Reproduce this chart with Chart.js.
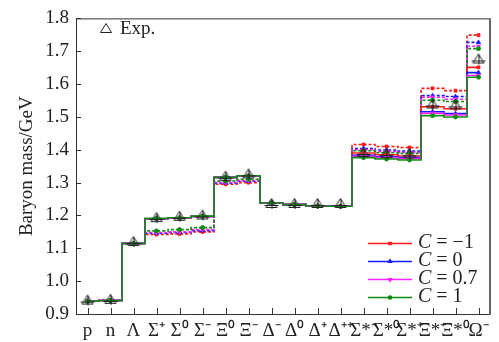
<!DOCTYPE html>
<html>
<head>
<meta charset="utf-8">
<script src="https://cdn.jsdelivr.net/npm/chart.js@4"></script>
<style>
  html, body { margin:0; padding:0; background:#fff; }
  #wrap { width:499px; height:342px; }
</style>
</head>
<body>
<div id="wrap"><canvas id="chart" width="499" height="342"></canvas></div>
<script>
// ── data ────────────────────────────────────────────────────────────────────
const baryons = ['p','n','Λ','Σ⁺','Σ⁰','Σ⁻','Ξ⁰','Ξ⁻','Δ⁻','Δ⁰','Δ⁺','Δ⁺⁺',
                 'Σ*⁻','Σ*⁰','Σ*⁺','Ξ*⁻','Ξ*⁰','Ω⁻'];
const yTicks  = [0.9, 1.0, 1.1, 1.2, 1.3, 1.4, 1.5, 1.6, 1.7, 1.8];

const expMass = [0.938, 0.940, 1.116, 1.189, 1.193, 1.197, 1.315, 1.322,
                 1.232, 1.232, 1.232, 1.232, 1.387, 1.384, 1.383, 1.535, 1.532, 1.672];

// solid lines
const solidCm1 = [0.939, 0.941, 1.115, 1.190, 1.192, 1.197, 1.316, 1.321,
                  1.238, 1.233, 1.229, 1.228, 1.390, 1.385, 1.381, 1.531, 1.525, 1.651];
const solidC0  = [0.939, 0.941, 1.115, 1.190, 1.192, 1.197, 1.316, 1.321,
                  1.238, 1.233, 1.229, 1.228, 1.383, 1.379, 1.376, 1.516, 1.510, 1.635];
const solidC07 = [0.939, 0.941, 1.115, 1.190, 1.192, 1.197, 1.316, 1.321,
                  1.238, 1.233, 1.229, 1.228, 1.380, 1.376, 1.373, 1.511, 1.506, 1.626];
const solidC1  = [0.939, 0.941, 1.115, 1.191, 1.193, 1.198, 1.316, 1.321,
                  1.238, 1.233, 1.229, 1.228, 1.376, 1.372, 1.369, 1.504, 1.500, 1.621];

// dashed lines
const dashCm1  = [0.939, 0.941, 1.114, 1.142, 1.144, 1.150, 1.295, 1.300,
                  1.238, 1.233, 1.229, 1.228, 1.416, 1.410, 1.407, 1.587, 1.580, 1.749];
const dashC0   = [0.939, 0.941, 1.114, 1.146, 1.148, 1.154, 1.299, 1.304,
                  1.238, 1.233, 1.229, 1.228, 1.404, 1.399, 1.396, 1.565, 1.562, 1.727];
const dashC07  = [0.939, 0.941, 1.114, 1.148, 1.150, 1.157, 1.301, 1.306,
                  1.238, 1.233, 1.229, 1.228, 1.400, 1.395, 1.392, 1.560, 1.554, 1.715];
const dashC1   = [0.939, 0.941, 1.114, 1.153, 1.157, 1.163, 1.305, 1.310,
                  1.238, 1.233, 1.229, 1.228, 1.397, 1.391, 1.389, 1.551, 1.547, 1.708];

const seriesLabels = ['−1', '0', '0.7', '1'];

// ── styles ──────────────────────────────────────────────────────────────────
const FONT   = '"Liberation Serif", "Times New Roman", serif';
const colors = ['#ff1a1a', '#1a1aff', '#ff22ff', '#108a10'];
const marks  = [
  { pointStyle:'rect',     rotation:0,   radius:2   },
  { pointStyle:'triangle', rotation:0,   radius:2.3 },
  { pointStyle:'triangle', rotation:180, radius:2.3 },
  { pointStyle:'circle',   rotation:0,   radius:2   }
];

// experimental symbol: open triangle with small error bars
function expSymbol(withBars) {
  const c = document.createElement('canvas');
  c.width = 16; c.height = 16;
  const g = c.getContext('2d');
  g.strokeStyle = '#222';
  g.lineWidth = 1;
  g.beginPath();
  g.moveTo(8, 1.5); g.lineTo(13.5, 10.5); g.lineTo(2.5, 10.5); g.closePath();
  g.stroke();
  if (withBars) {
    g.beginPath();
    g.moveTo(1, 8.5); g.lineTo(15, 8.5);
    g.moveTo(8.5, 2); g.lineTo(8.5, 12);
    g.stroke();
  }
  return c;
}
const expImg = expSymbol(true);
const expLegendImg = expSymbol(false);

function lineSet(data, i, dashed) {
  return {
    label: 'C = ' + seriesLabels[i] + (dashed ? ' (dashed)' : ''),
    legendText: dashed ? null : seriesLabels[i],
    data,
    stepped: 'middle',
    borderColor: colors[i],
    backgroundColor: colors[i],
    borderWidth: 1.6,
    borderDash: dashed ? [3, 2] : [],
    pointStyle: marks[i].pointStyle,
    rotation: marks[i].rotation,
    pointRadius: marks[i].radius,
    pointBorderWidth: 1,
    fill: false
  };
}

const solids = [solidCm1, solidC0, solidC07, solidC1];
const dashes = [dashCm1, dashC0, dashC07, dashC1];

const datasets = [{
  label: 'Exp.',
  data: expMass,
  showLine: false,
  pointStyle: expImg,
  pointRadius: 8,
  borderColor: '#222',
  backgroundColor: 'transparent'
}];
// first dataset is drawn on top: green, magenta, blue, red
for (let i = 3; i >= 0; i--) datasets.push(lineSet(solids[i], i, false));
for (let i = 3; i >= 0; i--) datasets.push(lineSet(dashes[i], i, true));

// ── plugins: frame, inward ticks, legends ──────────────────────────────────
const framePlugin = {
  id: 'frame',
  afterDraw(chart) {
    const { ctx, chartArea: a, scales } = chart;
    ctx.save();
    ctx.strokeStyle = '#333';
    ctx.lineWidth = 1;
    ctx.beginPath();
    ctx.moveTo(a.left + 0.5, a.top + 0.5);
    ctx.lineTo(a.right, a.top + 0.5);
    ctx.moveTo(a.left + 0.5, a.top);
    ctx.lineTo(a.left + 0.5, a.bottom + 0.5);
    ctx.lineTo(a.right, a.bottom + 0.5);
    // inward ticks
    scales.y.ticks.forEach((t, k) => {
      const y = Math.round(scales.y.getPixelForTick(k)) + 0.5;
      ctx.moveTo(a.left, y); ctx.lineTo(a.left + 5, y);
    });
    scales.x.ticks.forEach((t, k) => {
      const x = Math.round(scales.x.getPixelForTick(k)) + 0.5;
      ctx.moveTo(x, a.bottom); ctx.lineTo(x, a.bottom - 6);
    });
    ctx.stroke();
    ctx.strokeStyle = '#666';
    ctx.lineWidth = 2;
    ctx.beginPath();
    ctx.moveTo(a.right, a.top);
    ctx.lineTo(a.right, a.bottom + 1);
    ctx.stroke();
    ctx.restore();
  }
};

const legendPlugin = {
  id: 'customLegend',
  afterDraw(chart) {
    const { ctx } = chart;
    ctx.save();
    // Exp. entry, top left
    ctx.drawImage(expLegendImg, 98, 22);
    ctx.fillStyle = '#222';
    ctx.font = '19px ' + FONT;
    ctx.textBaseline = 'middle';
    ctx.fillText('Exp.', 120, 29);

    // C entries, bottom right
    const entries = chart.data.datasets.filter(d => d.legendText)
      .sort((p, q) => seriesLabels.indexOf(p.legendText) - seriesLabels.indexOf(q.legendText));
    const rows = [243, 261, 279, 297];
    entries.forEach((d, k) => {
      const y = rows[k];
      ctx.strokeStyle = d.borderColor;
      ctx.lineWidth = 1.4;
      ctx.beginPath();
      ctx.moveTo(368, y + 0.5); ctx.lineTo(412, y + 0.5);
      ctx.stroke();
      Chart.helpers.drawPoint(ctx, {
        pointStyle: d.pointStyle, rotation: d.rotation,
        radius: d.pointRadius * 0.8, borderWidth: 1
      }, 390, y + 0.5);
      ctx.fillStyle = d.borderColor;
      ctx.fill();
      ctx.fillStyle = '#222';
      ctx.font = 'italic 20px ' + FONT;
      ctx.fillText('C', 418, y);
      const w = ctx.measureText('C').width;
      ctx.font = '20px ' + FONT;
      ctx.fillText(' = ' + d.legendText, 418 + w, y);
    });
    ctx.restore();
  }
};

// ── chart ───────────────────────────────────────────────────────────────────
new Chart(document.getElementById('chart'), {
  type: 'line',
  data: { labels: baryons, datasets },
  plugins: [framePlugin, legendPlugin],
  options: {
    responsive: false,
    animation: false,
    layout: { padding: { top: 11, right: 7, left: 0, bottom: 0 } },
    plugins: { legend: { display: false }, tooltip: { enabled: false } },
    scales: {
      x: {
        type: 'category',
        offset: true,
        grid: { display: false, drawTicks: false },
        border: { display: false },
        ticks: {
          autoSkip: false, maxRotation: 0, minRotation: 0, padding: 6,
          color: '#222', font: { family: FONT, size: 19 }
        },
        afterFit(s) { s.height = 28; }
      },
      y: {
        min: 0.9, max: 1.8,
        grid: { display: false, drawTicks: false },
        border: { display: false },
        afterBuildTicks(s) { s.ticks = yTicks.map(v => ({ value: v })); },
        ticks: {
          padding: 7, color: '#222', font: { family: FONT, size: 19 },
          callback: v => v.toFixed(1)
        },
        title: {
          display: true, text: 'Baryon mass/GeV', color: '#222',
          font: { family: FONT, size: 19 }, padding: { top: 16, bottom: 0 }
        },
        afterFit(s) { s.width = 76; }
      }
    }
  }
});
</script>
</body>
</html>
